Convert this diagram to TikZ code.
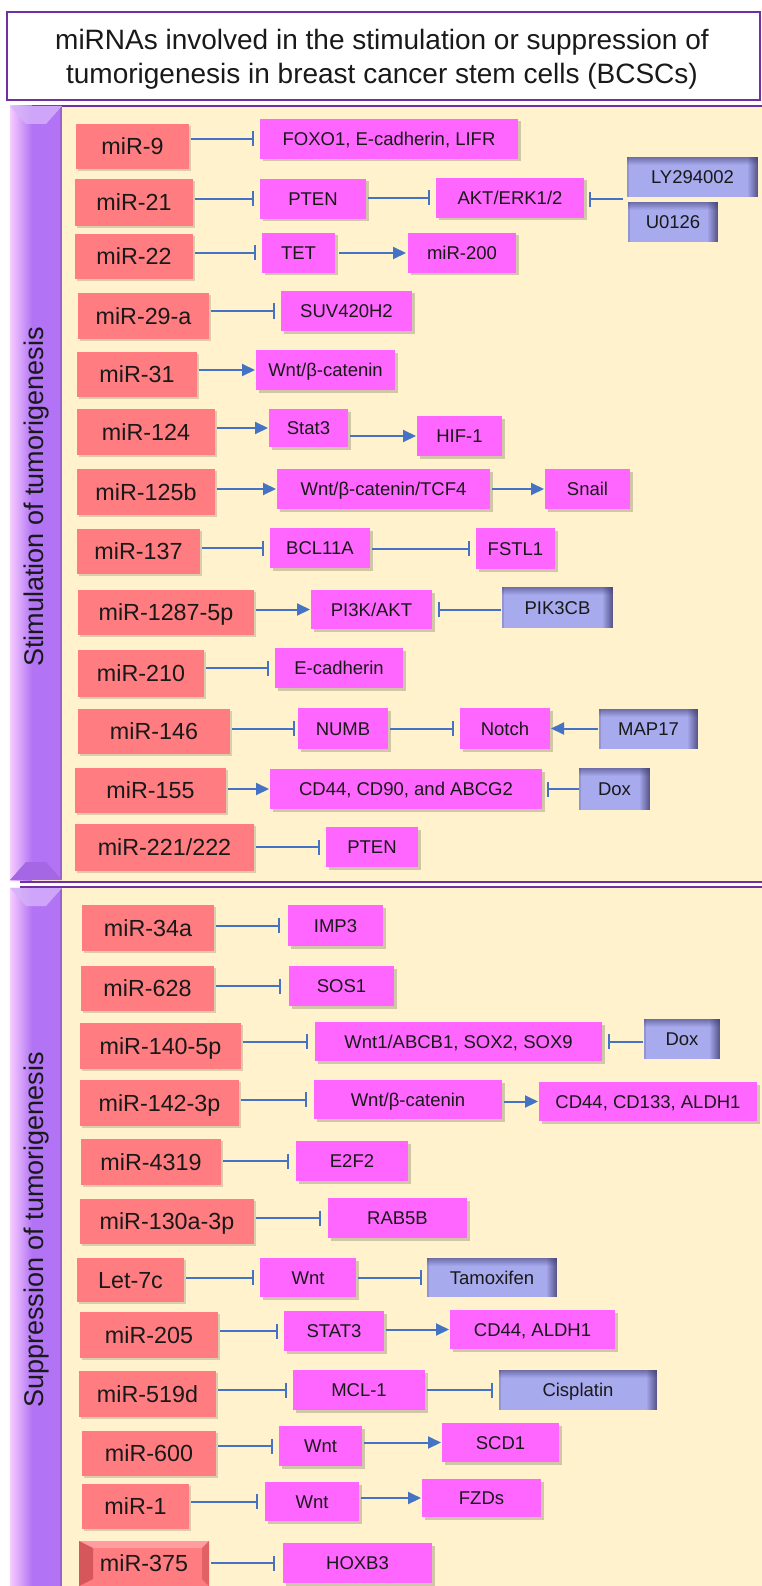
\documentclass[tikz,border=0pt]{standalone}
\usepackage{fontspec}
\setmainfont{Liberation Sans}
\usetikzlibrary{arrows.meta,shadows,calc}
\definecolor{redc}{HTML}{FF7C80}
\definecolor{redd}{HTML}{C84B4E}
\definecolor{magc}{HTML}{FF66FF}
\definecolor{lavc}{HTML}{A8AAEE}
\definecolor{lavd}{HTML}{3E3E70}
\definecolor{creamc}{HTML}{FFF2CC}
\definecolor{purpc}{HTML}{7030A0}
\definecolor{barc}{HTML}{B274F4}
\definecolor{barl}{HTML}{F6CCFF}
\definecolor{linec}{HTML}{4472C4}
\newcommand\mybox[7]{\node[#2, minimum width={(#5-#3)*1pt}, minimum height={(#6-#4)*1pt}, anchor=north west] (#1) at (#3,#4) {#7};}
\tikzset{
  box/.style={inner sep=0pt, outer sep=0pt, draw=none, text=black!90},
  redbox/.style={box, fill=redc, font=\fontsize{23.3}{26}\selectfont, text height=16.7pt, text depth=0pt,
    drop shadow={shadow xshift=1.5pt, shadow yshift=-2pt, opacity=0.15, fill=black}},
  redbev/.style={box, fill=redc, font=\fontsize{23.3}{26}\selectfont, text height=16.7pt, text depth=0pt,
    path picture={
      \coordinate (pnw) at (path picture bounding box.north west);
      \coordinate (pne) at (path picture bounding box.north east);
      \coordinate (psw) at (path picture bounding box.south west);
      \coordinate (pse) at (path picture bounding box.south east);
      \fill[redc!75!white] (pnw) -- (pne) -- ([xshift=-7pt,yshift=-7pt]pne) -- ([xshift=14pt,yshift=-7pt]pnw) -- cycle;
      \fill[redd!75!redc] (pnw) -- ([xshift=14pt,yshift=-7pt]pnw) -- ([xshift=14pt,yshift=7pt]psw) -- (psw) -- cycle;
      \fill[redd!55!redc] (pne) -- ([xshift=-7pt,yshift=-7pt]pne) -- ([xshift=-7pt,yshift=7pt]pse) -- (pse) -- cycle;
    }},
  magbox/.style={box, fill=magc, font=\fontsize{18.5}{21}\selectfont, text height=13.3pt, text depth=0pt,
    drop shadow={shadow xshift=2.5pt, shadow yshift=-2.5pt, opacity=0.18, fill=black}},
  lavbox/.style={box, fill=lavc, font=\fontsize{18.5}{21}\selectfont, text height=13.3pt, text depth=0pt,
    path picture={
      \foreach \i in {0,...,7}{
        \fill[lavd, opacity={0.55-0.07*\i}] ([yshift=-\i pt]path picture bounding box.north west) rectangle ([yshift=-\i pt-1pt]path picture bounding box.north east);
      }
      \foreach \i in {0,...,9}{
        \fill[lavd, opacity={0.75-0.075*\i}] ([xshift=-\i pt]path picture bounding box.north east) rectangle ([xshift=-\i pt-1pt]path picture bounding box.south east);
      }
      \fill[lavd, opacity=0.2] (path picture bounding box.north west) rectangle ([xshift=1.5pt]path picture bounding box.south west);
    }},
  inh/.style={draw=linec, line width=2pt, -{Bar[width=15pt]}, shorten <=2pt, shorten >=6pt},
  act/.style={draw=linec, line width=2pt, -{Triangle[length=13pt,width=12pt]}, shorten <=2pt, shorten >=1pt},
  vlabel/.style={rotate=90, font=\fontsize{27}{30}\selectfont, text=black!90},
}
\begin{document}
\begin{tikzpicture}[x=1pt,y=-1pt]
\useasboundingbox (0,0) rectangle (762,1586);
\fill[white] (0,0) rectangle (762,1586);
% title
\draw[purpc, line width=2pt, fill=white] (7,12) rectangle (760,100);
\node[font=\fontsize{28}{34}\selectfont, align=center, inner sep=0pt, text=black!90] (title) at (382,59)
  {miRNAs involved in the stimulation or suppression of\\tumorigenesis in breast cancer stem cells (BCSCs)};
% panels
\fill[creamc] (10,106) rectangle (762,882);
\fill[creamc] (10,887) rectangle (762,1586);
\draw[purpc, line width=2pt] (10,106) -- (762,106);
\draw[purpc, line width=1.5pt] (20,882) -- (762,882);
\draw[purpc, line width=1.5pt] (20,887) -- (762,887);
% bars
\foreach \ya/\yb in {106/880, 888/1586}{
  \shade[left color=barl, right color=barc] (10,\ya) rectangle (32,\yb);
  \fill[barc] (32,\ya) rectangle (62,\yb);
  \fill[barc!85!black] (60,\ya) rectangle (62,\yb);
}
\fill[barc!55!white, opacity=0.8] (10,106) -- (62,106) -- (46,124) -- (26,124) -- cycle;
\fill[barc!80!purpc] (10,880) -- (62,880) -- (46,862) -- (26,862) -- cycle;
\fill[barc!55!white, opacity=0.8] (10,888) -- (62,888) -- (46,906) -- (26,906) -- cycle;
\node[vlabel] (stim) at (37,497) {Stimulation of tumorigenesis};
\node[vlabel] (supp) at (37,1230) {Suppression of tumorigenesis};

% ---- top panel ----
\mybox{r1}{redbox}{76}{124}{189}{169}{miR-9}
\mybox{m1}{magbox}{260}{119}{518}{159}{FOXO1, E-cadherin, LIFR}
\mybox{r2}{redbox}{75}{179}{193}{226}{miR-21}
\mybox{m2a}{magbox}{260}{179}{366}{219}{PTEN}
\mybox{m2b}{magbox}{436}{178}{584}{218}{AKT/ERK1/2}
\mybox{b2a}{lavbox}{627}{157}{758}{197}{LY294002}
\mybox{b2b}{lavbox}{628}{202}{718}{242}{U0126}
\mybox{r3}{redbox}{75}{234}{193}{279}{miR-22}
\mybox{m3a}{magbox}{262}{233}{335}{273}{TET}
\mybox{m3b}{magbox}{408}{233}{516}{273}{miR-200}
\mybox{r4}{redbox}{78}{293}{209}{339}{miR-29-a}
\mybox{m4}{magbox}{281}{291}{412}{331}{SUV420H2}
\mybox{r5}{redbox}{77}{352}{197}{397}{miR-31}
\mybox{m5}{magbox}{256}{350}{395}{390}{Wnt/β-catenin}
\mybox{r6}{redbox}{77}{409}{215}{455}{miR-124}
\mybox{m6a}{magbox}{269}{409}{348}{447}{Stat3}
\mybox{m6b}{magbox}{417}{416}{502}{456}{HIF-1}
\mybox{r7}{redbox}{77}{469}{215}{515}{miR-125b}
\mybox{m7a}{magbox}{277}{469}{490}{509}{Wnt/β-catenin/TCF4}
\mybox{m7b}{magbox}{545}{469}{630}{509}{Snail}
\mybox{r8}{redbox}{77}{529}{200}{574}{miR-137}
\mybox{m8a}{magbox}{270}{528}{370}{568}{BCL11A}
\mybox{m8b}{magbox}{476}{528}{555}{569}{FSTL1}
\mybox{r9}{redbox}{78}{590}{254}{635}{miR-1287-5p}
\mybox{m9}{magbox}{311}{590}{432}{629}{PI3K/AKT}
\mybox{b9}{lavbox}{502}{587}{613}{628}{PIK3CB}
\mybox{r10}{redbox}{78}{650}{204}{697}{miR-210}
\mybox{m10}{magbox}{275}{648}{403}{688}{E-cadherin}
\mybox{r11}{redbox}{78}{709}{230}{754}{miR-146}
\mybox{m11a}{magbox}{298}{708}{388}{749}{NUMB}
\mybox{m11b}{magbox}{460}{708}{550}{749}{Notch}
\mybox{b11}{lavbox}{599}{709}{698}{749}{MAP17}
\mybox{r12}{redbox}{75}{768}{226}{813}{miR-155}
\mybox{m12}{magbox}{270}{769}{542}{809}{CD44, CD90, and ABCG2}
\mybox{b12}{lavbox}{579}{768}{650}{810}{Dox}
\mybox{r13}{redbox}{75}{824}{254}{871}{miR-221/222}
\mybox{m13}{magbox}{326}{827}{418}{867}{PTEN}

% ---- bottom panel ----
\mybox{r14}{redbox}{82}{905}{214}{951}{miR-34a}
\mybox{m14}{magbox}{288}{905}{383}{946}{IMP3}
\mybox{r15}{redbox}{81}{966}{214}{1011}{miR-628}
\mybox{m15}{magbox}{289}{966}{394}{1006}{SOS1}
\mybox{r16}{redbox}{80}{1023}{241}{1069}{miR-140-5p}
\mybox{m16}{magbox}{315}{1022}{602}{1061}{Wnt1/ABCB1, SOX2, SOX9}
\mybox{b16}{lavbox}{644}{1019}{720}{1059}{Dox}
\mybox{r17}{redbox}{80}{1080}{239}{1126}{miR-142-3p}
\mybox{m17a}{magbox}{314}{1080}{502}{1119}{Wnt/β-catenin}
\mybox{m17b}{magbox}{539}{1082}{757}{1121}{CD44, CD133, ALDH1}
\mybox{r18}{redbox}{81}{1139}{221}{1185}{miR-4319}
\mybox{m18}{magbox}{296}{1141}{408}{1181}{E2F2}
\mybox{r19}{redbox}{80}{1199}{254}{1244}{miR-130a-3p}
\mybox{m19}{magbox}{328}{1198}{467}{1238}{RAB5B}
\mybox{r20}{redbox}{77}{1258}{184}{1302}{Let-7c}
\mybox{m20}{magbox}{260}{1258}{356}{1297}{Wnt}
\mybox{b20}{lavbox}{427}{1258}{557}{1297}{Tamoxifen}
\mybox{r21}{redbox}{80}{1312}{218}{1358}{miR-205}
\mybox{m21a}{magbox}{284}{1311}{384}{1351}{STAT3}
\mybox{m21b}{magbox}{450}{1310}{615}{1349}{CD44, ALDH1}
\mybox{r22}{redbox}{79}{1371}{216}{1417}{miR-519d}
\mybox{m22}{magbox}{293}{1370}{425}{1410}{MCL-1}
\mybox{b22}{lavbox}{499}{1370}{657}{1410}{Cisplatin}
\mybox{r23}{redbox}{82}{1431}{216}{1476}{miR-600}
\mybox{m23a}{magbox}{279}{1426}{362}{1466}{Wnt}
\mybox{m23b}{magbox}{442}{1423}{559}{1462}{SCD1}
\mybox{r24}{redbox}{82}{1484}{189}{1529}{miR-1}
\mybox{m24a}{magbox}{265}{1482}{359}{1521}{Wnt}
\mybox{m24b}{magbox}{422}{1479}{541}{1517}{FZDs}
\mybox{r25}{redbev}{79}{1541}{209}{1586}{miR-375}
\mybox{m25}{magbox}{283}{1543}{432}{1583}{HOXB3}

% ---- connectors ----
\draw[inh] (r1.east |- m1.west) -- (m1.west);
\draw[inh] (r2.east |- m2a.west) -- (m2a.west);
\draw[inh] (m2a.east |- m2b.west) -- (m2b.west);
\coordinate (lyu) at ($(b2a.south west)!0.5!(b2b.north west)$);
\draw[inh, shorten <=5pt, shorten >=5pt] (lyu) -- (lyu -| m2b.east);
\draw[inh] (r3.east |- m3a.west) -- (m3a.west);
\draw[act, shorten <=4pt, shorten >=2pt] (m3a.east |- m3b.west) -- (m3b.west);
\draw[inh] (r4.east |- m4.west) -- (m4.west);
\draw[act] (r5.east |- m5.west) -- (m5.west);
\draw[act] (r6.east |- m6a.west) -- (m6a.west);
\draw[act] (m6a.east |- m6b.west) -- (m6b.west);
\draw[act] (r7.east |- m7a.west) -- (m7a.west);
\draw[act] (m7a.east |- m7b.west) -- (m7b.west);
\draw[inh] (r8.east |- m8a.west) -- (m8a.west);
\draw[inh] (m8a.east |- m8b.west) -- (m8b.west);
\draw[act] (r9.east |- m9.west) -- (m9.west);
\draw[inh, shorten <=1pt] (b9.west |- m9.east) -- (m9.east);
\draw[inh] (r10.east |- m10.west) -- (m10.west);
\draw[inh, shorten >=3pt] (r11.east |- m11a.west) -- (m11a.west);
\draw[inh] (m11a.east |- m11b.west) -- (m11b.west);
\draw[act, shorten <=1pt] (b11.west |- m11b.east) -- (m11b.east);
\draw[act] (r12.east |- m12.west) -- (m12.west);
\draw[inh, shorten <=0pt, shorten >=5pt] (b12.west |- m12.east) -- (m12.east);
\draw[inh] (r13.east |- m13.west) -- (m13.west);

\draw[inh, shorten >=8pt] (r14.east |- m14.west) -- (m14.west);
\draw[inh, shorten >=8pt] (r15.east |- m15.west) -- (m15.west);
\draw[inh, shorten >=7pt] (r16.east |- m16.west) -- (m16.west);
\draw[inh, shorten <=1pt] (b16.west |- m16.east) -- (m16.east);
\draw[inh, shorten >=7pt] (r17.east |- m17a.west) -- (m17a.west);
\draw[act] (m17a.east |- m17b.west) -- (m17b.west);
\draw[inh, shorten >=7pt] (r18.east |- m18.west) -- (m18.west);
\draw[inh, shorten >=7pt] (r19.east |- m19.west) -- (m19.west);
\draw[inh] (r20.east |- m20.west) -- (m20.west);
\draw[inh, shorten >=5pt] (m20.east |- b20.west) -- (b20.west);
\draw[inh] (r21.east |- m21a.west) -- (m21a.west);
\draw[act] (m21a.east |- m21b.west) -- (m21b.west);
\draw[inh] (r22.east |- m22.west) -- (m22.west);
\draw[inh] (m22.east |- b22.west) -- (b22.west);
\draw[inh] (r23.east |- m23a.west) -- (m23a.west);
\draw[act] (m23a.east |- m23b.west) -- (m23b.west);
\draw[inh, shorten >=7pt] (r24.east |- m24a.west) -- (m24a.west);
\draw[act] (m24a.east |- m24b.west) -- (m24b.west);
\draw[inh, shorten >=8pt] (r25.east |- m25.west) -- (m25.west);
\end{tikzpicture}
\end{document}
